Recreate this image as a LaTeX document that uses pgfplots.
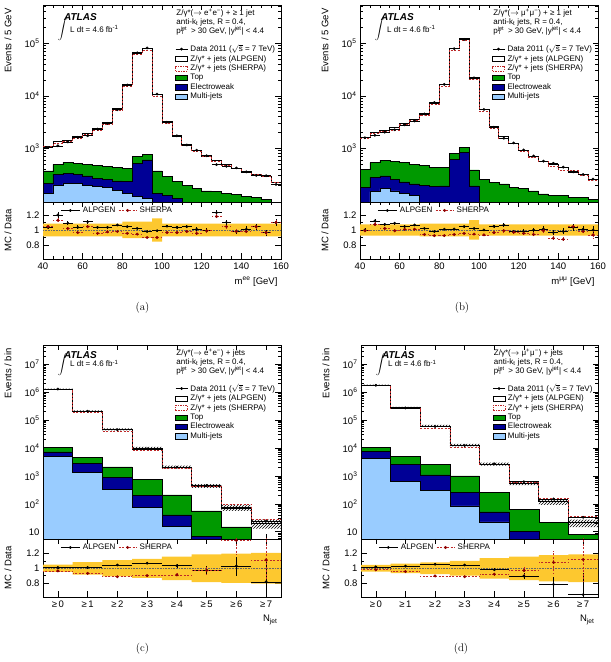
\documentclass[border=0pt]{standalone}
\usepackage{fontspec}
\usepackage{pgfplots}
\pgfplotsset{compat=1.18}
\usetikzlibrary{patterns}
\newfontfamily\hv{Liberation Sans}
\definecolor{topg}{RGB}{0,153,0}
\definecolor{ewb}{RGB}{0,0,150}
\definecolor{mjb}{RGB}{153,204,255}
\definecolor{band}{RGB}{253,200,47}
\definecolor{sherpa}{RGB}{190,40,40}
\definecolor{sherpadot}{RGB}{140,0,0}
\pgfkeys{/pgf/number format/assume math mode=true}
\newcommand\supsub[2]{\raisebox{2.6pt}{\makebox[0pt][l]{\fontsize{5.5}{6}\selectfont #1}}\raisebox{-1.4pt}{\fontsize{5.5}{6}\selectfont #2}\hspace{4.5pt}}
\pgfplotsset{
  atlbase/.style={scale only axis, width=238pt, anchor=south west,
    axis line style={line width=0.9pt}, tick style={black, line width=0.6pt},
    major tick length=5.5pt, minor tick length=3pt, tick align=inside,
    tick label style={font=\hv\fontsize{9.5}{11}\selectfont},
    label style={font=\hv\fontsize{9.5}{11}\selectfont}},
  mainax/.style={atlbase, xticklabels={},
    ylabel style={at={(axis description cs:-0.118,1)}, anchor=south east},
    legend style={at={(rel axis cs:0.542,0.812)}, anchor=north west, draw=none, fill=none,
      font=\hv\fontsize{8}{9}\selectfont, nodes={inner xsep=2.6pt, inner ysep=0.5pt, text depth=1.8pt}, row sep=0.9pt},
    legend cell align=left},
  ratioax/.style={atlbase, ytick={0.8,1,1.2}, minor y tick num=1,
    ylabel={MC / Data},
    ylabel style={at={(axis description cs:-0.118,0.5)}, anchor=south},
    xlabel style={at={(axis description cs:1,-0.25)}, anchor=north east},
    legend columns=2,
    legend style={at={(rel axis cs:0.06,0.97)}, anchor=north west, draw=none, fill=none,
      font=\hv\fontsize{8}{9}\selectfont, nodes={inner xsep=2.8pt, inner ysep=1pt}}},
  datapt/.style={only marks, black, mark=*, mark size=1.2pt,
    error bars/x dir=both, error bars/x explicit, error bars/error mark=none,
    error bars/error bar style={line width=0.6pt}},
  alpr/.style={only marks, black, mark=*, mark size=1.2pt,
    error bars/x dir=both, error bars/x explicit, error bars/y dir=both, error bars/y explicit,
    error bars/error mark=none, error bars/error bar style={line width=0.6pt}},
  shr/.style={only marks, sherpadot, mark=*, mark size=1.3pt,
    error bars/x dir=both, error bars/x explicit, error bars/y dir=both, error bars/y explicit,
    error bars/error mark=none,
    error bars/error bar style={line width=0.6pt, sherpa, dash pattern=on 2pt off 1.5pt}},
  imgdata/.style={legend image code/.code={\draw[black, line width=0.7pt] (0pt,0pt) -- (12pt,0pt); \fill[black] (6pt,0pt) circle (1.2pt);}},
  imgbox/.style={legend image code/.code={\draw[#1] (0pt,-2.6pt) rectangle (12pt,2.6pt);}},
  imgalp/.style={legend image code/.code={\draw[black, line width=0.7pt] (0pt,0pt) -- (19pt,0pt); \fill[black] (9.5pt,0pt) circle (1.2pt);}},
  imgshr/.style={legend image code/.code={\draw[sherpa, line width=0.7pt, dash pattern=on 2pt off 1.5pt] (0pt,0pt) -- (18pt,0pt); \fill[sherpadot] (9pt,0pt) circle (1.3pt);}},
}
\newcommand\mainlegend{%
  \addlegendimage{imgdata}\addlegendentry{Data 2011 ($\sqrt{\mbox{s}}$ = 7 TeV)}
  \addlegendimage{imgbox={black, fill=white, line width=0.6pt}}\addlegendentry{Z/γ* + jets (ALPGEN)}
  \addlegendimage{imgbox={sherpa, dash pattern=on 1.5pt off 1pt, line width=0.6pt}}\addlegendentry{Z/γ* + jets (SHERPA)}
  \addlegendimage{imgbox={black, fill=topg, line width=0.5pt}}\addlegendentry{Top}
  \addlegendimage{imgbox={black, fill=ewb, line width=0.5pt}}\addlegendentry{Electroweak}
  \addlegendimage{imgbox={black, fill=mjb, line width=0.5pt}}\addlegendentry{Multi-jets}}
\newcommand\ratiolegend{%
  \addlegendimage{imgalp}\addlegendentry{ALPGEN\hspace{9pt}}
  \addlegendimage{imgshr}\addlegendentry{SHERPA}}
\newcommand\atlas[2]{%
  \node[anchor=west, font=\hv\bfseries\itshape\fontsize{10}{12}\selectfont, inner sep=0pt] at (rel axis cs:0.088,#1) {ATLAS};
  \node[anchor=west, font=\hv\fontsize{8}{9}\selectfont, inner sep=0pt] at (rel axis cs:0.062,#2) {$\displaystyle\int$ L dt = 4.6 fb\textsuperscript{-1}};}
\newcommand\header[1]{%
  \node[anchor=north west, align=left, font=\hv\fontsize{8}{9}\selectfont, inner sep=0pt] at (rel axis cs:0.56,0.98)
  {#1\\anti-k\textsubscript{t} jets, R = 0.4,\\p\supsub{jet}{T} > 30 GeV, |y\textsuperscript{jet}| < 4.4};}
\begin{document}
\begin{tikzpicture}
\useasboundingbox (0,0) rectangle (611pt,662pt);
% ================= (a) main =================
\begin{axis}[ymode=log, mainax, at={(43pt,460pt)}, height=197pt,
  xmin=40, xmax=160, ymin=95, ymax=5.37e5,
  xtick={40,60,...,160}, minor x tick num=3,
  ytick={1000,10000,100000}, yticklabels={10\textsuperscript{3},10\textsuperscript{4},10\textsuperscript{5}},
  minor ytick={200,300,400,500,600,700,800,900,2000,3000,4000,5000,6000,7000,8000,9000,20000,30000,40000,50000,60000,70000,80000,90000,200000,300000,400000,500000},
  ylabel={Events / 5 GeV}]
\mainlegend
\addplot[const plot, fill=topg, draw=black, line width=0.5pt, forget plot] coordinates {(40,370) (45,496) (50,540) (55,518) (60,496) (65,480) (70,450) (75,430) (80,410) (85,714) (90,768) (95,370) (100,290) (105,232) (110,200) (115,174) (120,154) (125,150) (130,140) (135,134) (140,120) (145,115) (150,108) (155,108)} \closedcycle;
\addplot[const plot, fill=ewb, draw=black, line width=0.5pt, forget plot] coordinates {(40,215) (45,320) (50,334) (55,320) (60,300) (65,268) (70,255) (75,240) (80,232) (85,518) (90,600) (95,140) (100,125) (105,112) (110,112)} \closedcycle;
\addplot[const plot, fill=mjb, draw=black, line width=0.5pt, forget plot] coordinates {(40,140) (45,200) (50,215) (55,215) (60,200) (65,190) (70,180) (75,160) (80,140) (85,120) (90,110) (95,110)} \closedcycle;
\addplot[const plot, black, line width=0.7pt, forget plot] coordinates {(40,1080) (45,1340) (50,1440) (55,1670) (60,1930) (65,2400) (70,3080) (75,5800) (80,16800) (85,67000) (90,80000) (95,10700) (100,3300) (105,1790) (110,1210) (115,930) (120,715) (125,600) (130,500) (135,416) (140,360) (145,320) (150,290) (155,225) (160,225)};
\addplot[const plot, sherpa, line width=0.7pt, dash pattern=on 2pt off 1.5pt, forget plot] coordinates {(40,1090) (45,1262) (50,1347) (55,1557) (60,1817) (65,2215) (70,2901) (75,5327) (80,15353) (85,62073) (90,73469) (95,9727) (100,3033) (105,1669) (110,1135) (115,879) (120,715) (125,576) (130,475) (135,416) (140,349) (145,320) (150,290) (155,225) (160,225)};
\addplot[forget plot, datapt] coordinates {(42.5,1043) +- (2.5,0) (47.5,1117) +- (2.5,0) (52.5,1321) +- (2.5,0) (57.5,1614) +- (2.5,0) (62.5,1739) +- (2.5,0) (67.5,2319) +- (2.5,0) (72.5,2976) +- (2.5,0) (77.5,5436) +- (2.5,0) (82.5,16077) +- (2.5,0) (87.5,65686) +- (2.5,0) (92.5,81633) +- (2.5,0) (97.5,10808) +- (2.5,0) (102.5,3143) +- (2.5,0) (107.5,1729) +- (2.5,0) (112.5,1158) +- (2.5,0) (117.5,921) +- (2.5,0) (122.5,722) +- (2.5,0) (127.5,488) +- (2.5,0) (132.5,455) +- (2.5,0) (137.5,424) +- (2.5,0) (142.5,356) +- (2.5,0) (147.5,306) +- (2.5,0) (152.5,301) +- (2.5,0) (157.5,205) +- (2.5,0)};
\atlas{0.94}{0.873}
\header{Z/γ*($\rightarrow$ e\textsuperscript{+}e\textsuperscript{−}) + ≥ 1 jet}
\end{axis}
% ================= (a) ratio =================
\begin{axis}[ratioax, at={(43pt,403pt)}, height=57pt,
  xmin=40, xmax=160, ymin=0.613, ymax=1.373,
  xtick={40,60,...,160}, minor x tick num=3,
  xlabel={m\textsuperscript{ee} [GeV]}]
\ratiolegend
\addplot[fill=band, draw=none, forget plot] coordinates {(40,1.085) (80,1.085) (80,1.11) (95,1.11) (95,1.155) (100,1.155) (100,1.085) (160,1.085) (160,0.915) (100,0.915) (100,0.845) (95,0.845) (95,0.89) (80,0.89) (80,0.915) (40,0.915)};
\addplot[densely dotted, black!60, line width=0.6pt, forget plot] coordinates {(40,1) (160,1)};
\addplot[forget plot, alpr] coordinates {(42.5,1.035) +- (2.5,0.025) (47.5,1.20) +- (2.5,0.035) (52.5,1.09) +- (2.5,0.025) (57.5,1.035) +- (2.5,0.025) (62.5,1.11) +- (2.5,0.025) (67.5,1.035) +- (2.5,0.02) (72.5,1.035) +- (2.5,0.02) (77.5,1.067) +- (2.5,0.012) (82.5,1.045) +- (2.5,0.008) (87.5,1.02) +- (2.5,0.005) (92.5,0.98) +- (2.5,0.005) (97.5,0.99) +- (2.5,0.01) (102.5,1.05) +- (2.5,0.015) (107.5,1.035) +- (2.5,0.02) (112.5,1.045) +- (2.5,0.025) (117.5,1.01) +- (2.5,0.025) (122.5,0.99) +- (2.5,0.03) (127.5,1.23) +- (2.5,0.04) (132.5,1.10) +- (2.5,0.035) (137.5,0.98) +- (2.5,0.035) (142.5,1.01) +- (2.5,0.04) (147.5,1.045) +- (2.5,0.04) (152.5,0.965) +- (2.5,0.04) (157.5,1.10) +- (2.5,0.045)};
\addplot[forget plot, shr] coordinates {(42.5,1.045) +- (2.5,0.025) (47.5,1.13) +- (2.5,0.035) (52.5,1.02) +- (2.5,0.025) (57.5,0.965) +- (2.5,0.025) (62.5,1.045) +- (2.5,0.025) (67.5,0.955) +- (2.5,0.02) (72.5,0.975) +- (2.5,0.02) (77.5,0.98) +- (2.5,0.012) (82.5,0.955) +- (2.5,0.008) (87.5,0.945) +- (2.5,0.005) (92.5,0.90) +- (2.5,0.005) (97.5,0.90) +- (2.5,0.01) (102.5,0.965) +- (2.5,0.015) (107.5,0.965) +- (2.5,0.02) (112.5,0.98) +- (2.5,0.025) (117.5,0.955) +- (2.5,0.025) (122.5,0.99) +- (2.5,0.03) (127.5,1.18) +- (2.5,0.04) (132.5,1.045) +- (2.5,0.035) (137.5,0.98) +- (2.5,0.035) (142.5,0.98) +- (2.5,0.04) (147.5,1.045) +- (2.5,0.04) (152.5,0.965) +- (2.5,0.04) (157.5,1.10) +- (2.5,0.045)};
\end{axis}
% ================= (b) main =================
\begin{axis}[ymode=log, mainax, at={(360pt,460pt)}, height=197pt,
  xmin=40, xmax=160, ymin=95, ymax=5.37e5,
  xtick={40,60,...,160}, minor x tick num=3,
  ytick={1000,10000,100000}, yticklabels={10\textsuperscript{3},10\textsuperscript{4},10\textsuperscript{5}},
  minor ytick={200,300,400,500,600,700,800,900,2000,3000,4000,5000,6000,7000,8000,9000,20000,30000,40000,50000,60000,70000,80000,90000,200000,300000,400000,500000},
  ylabel={Events / 5 GeV}]
\mainlegend
\addplot[const plot, fill=topg, draw=black, line width=0.5pt, forget plot] coordinates {(40,400) (45,535) (50,590) (55,560) (60,535) (65,500) (70,476) (75,430) (80,430) (85,804) (90,1030) (95,388) (100,258) (105,225) (110,210) (115,180) (120,170) (125,155) (130,135) (135,126) (140,126) (145,116) (150,116) (155,108) (160,108)} \closedcycle;
\addplot[const plot, fill=ewb, draw=black, line width=0.5pt, forget plot] coordinates {(40,180) (45,280) (50,300) (55,260) (60,230) (65,210) (70,195) (75,190) (80,193) (85,620) (90,830) (95,193) (100,193)} \closedcycle;
\addplot[const plot, fill=mjb, draw=black, line width=0.5pt, forget plot] coordinates {(45,150) (50,170) (55,155) (60,140) (65,126) (70,126)} \closedcycle;
\addplot[const plot, black, line width=0.7pt, forget plot] coordinates {(40,1590) (45,1980) (50,2190) (55,2460) (60,2930) (65,3540) (70,4600) (75,7300) (80,16700) (85,80000) (90,124000) (95,22400) (100,5500) (105,2650) (110,1660) (115,1240) (120,915) (125,716) (130,576) (135,500) (140,430) (145,370) (150,320) (155,260) (160,260)};
\addplot[const plot, sherpa, line width=0.7pt, dash pattern=on 2pt off 1.5pt, forget plot] coordinates {(40,1574) (45,1900) (50,2078) (55,2234) (60,2832) (65,3351) (70,4239) (75,6890) (80,15295) (85,74235) (90,113320) (95,20753) (100,5143) (105,2435) (110,1540) (115,1227) (120,892) (125,673) (130,563) (135,461) (140,384) (145,373) (150,311) (155,243) (160,243)};
\addplot[forget plot, datapt] coordinates {(42.5,1590) +- (2.5,0) (47.5,1768) +- (2.5,0) (52.5,2037) +- (2.5,0) (57.5,2257) +- (2.5,0) (62.5,2804) +- (2.5,0) (67.5,3318) +- (2.5,0) (72.5,4510) +- (2.5,0) (77.5,7449) +- (2.5,0) (82.5,16535) +- (2.5,0) (87.5,78973) +- (2.5,0) (92.5,118660) +- (2.5,0) (97.5,21961) +- (2.5,0) (102.5,5500) +- (2.5,0) (107.5,2524) +- (2.5,0) (112.5,1556) +- (2.5,0) (117.5,1265) +- (2.5,0) (122.5,934) +- (2.5,0) (127.5,716) +- (2.5,0) (132.5,569) +- (2.5,0) (137.5,518) +- (2.5,0) (142.5,439) +- (2.5,0) (147.5,357) +- (2.5,0) (152.5,317) +- (2.5,0) (157.5,260) +- (2.5,0)};
\atlas{0.94}{0.873}
\header{Z/γ*($\rightarrow$ μ\textsuperscript{+}μ\textsuperscript{−}) + ≥ 1 jet}
\end{axis}
% ================= (b) ratio =================
\begin{axis}[ratioax, at={(360pt,403pt)}, height=57pt,
  xmin=40, xmax=160, ymin=0.613, ymax=1.373,
  xtick={40,60,...,160}, minor x tick num=3,
  xlabel={m\textsuperscript{μμ} [GeV]}]
\ratiolegend
\addplot[fill=band, draw=none, forget plot] coordinates {(40,1.075) (70,1.075) (70,1.085) (95,1.085) (95,1.13) (100,1.13) (100,1.075) (160,1.075) (160,0.925) (100,0.925) (100,0.87) (95,0.87) (95,0.915) (70,0.915) (70,0.925) (40,0.925)};
\addplot[densely dotted, black!60, line width=0.6pt, forget plot] coordinates {(40,1) (160,1)};
\addplot[forget plot, alpr] coordinates {(42.5,1.0) +- (2.5,0.02) (47.5,1.12) +- (2.5,0.025) (52.5,1.075) +- (2.5,0.02) (57.5,1.09) +- (2.5,0.02) (62.5,1.045) +- (2.5,0.02) (67.5,1.067) +- (2.5,0.015) (72.5,1.02) +- (2.5,0.012) (77.5,0.98) +- (2.5,0.01) (82.5,1.01) +- (2.5,0.008) (87.5,1.013) +- (2.5,0.005) (92.5,1.045) +- (2.5,0.005) (97.5,1.02) +- (2.5,0.008) (102.5,1.0) +- (2.5,0.012) (107.5,1.05) +- (2.5,0.02) (112.5,1.067) +- (2.5,0.025) (117.5,0.98) +- (2.5,0.025) (122.5,0.98) +- (2.5,0.03) (127.5,1.0) +- (2.5,0.03) (132.5,1.013) +- (2.5,0.035) (137.5,0.965) +- (2.5,0.035) (142.5,0.98) +- (2.5,0.04) (147.5,1.035) +- (2.5,0.045) (152.5,1.01) +- (2.5,0.045) (157.5,1.0) +- (2.5,0.05)};
\addplot[forget plot, shr] coordinates {(42.5,0.99) +- (2.5,0.02) (47.5,1.075) +- (2.5,0.025) (52.5,1.02) +- (2.5,0.02) (57.5,0.99) +- (2.5,0.02) (62.5,1.01) +- (2.5,0.02) (67.5,1.01) +- (2.5,0.015) (72.5,0.94) +- (2.5,0.012) (77.5,0.925) +- (2.5,0.01) (82.5,0.925) +- (2.5,0.008) (87.5,0.94) +- (2.5,0.005) (92.5,0.955) +- (2.5,0.005) (97.5,0.945) +- (2.5,0.008) (102.5,0.935) +- (2.5,0.012) (107.5,0.965) +- (2.5,0.02) (112.5,0.99) +- (2.5,0.025) (117.5,0.97) +- (2.5,0.025) (122.5,0.955) +- (2.5,0.03) (127.5,0.94) +- (2.5,0.03) (132.5,0.99) +- (2.5,0.035) (137.5,0.89) +- (2.5,0.035) (142.5,0.875) +- (2.5,0.04) (147.5,1.045) +- (2.5,0.045) (152.5,0.98) +- (2.5,0.045) (157.5,0.935) +- (2.5,0.05)};
\end{axis}
% ================= (c) main =================
\begin{axis}[ymode=log, mainax, at={(43pt,123pt)}, height=194pt,
  xmin=-0.5, xmax=7.5, ymin=5.5, ymax=4.9e7,
  xtick={0,1,2,3,4,5,6,7},
  ytick={10,100,1000,10000,100000,1e6,1e7},
  yticklabels={10,10\textsuperscript{2},10\textsuperscript{3},10\textsuperscript{4},10\textsuperscript{5},10\textsuperscript{6},10\textsuperscript{7}},
  minor ytick={6,7,8,9,20,30,40,50,60,70,80,90,200,300,400,500,600,700,800,900,2000,3000,4000,5000,6000,7000,8000,9000,2e4,3e4,4e4,5e4,6e4,7e4,8e4,9e4,2e5,3e5,4e5,5e5,6e5,7e5,8e5,9e5,2e6,3e6,4e6,5e6,6e6,7e6,8e6,9e6,2e7,3e7,4e7},
  ylabel={Events / bin}]
\mainlegend
\addplot[const plot, fill=topg, draw=black, line width=0.5pt, forget plot] coordinates {(-0.5,10500) (0.5,4600) (1.5,2100) (2.5,750) (3.5,210) (4.5,56) (5.5,15) (6.5,15)} \closedcycle;
\addplot[const plot, fill=ewb, draw=black, line width=0.5pt, forget plot] coordinates {(-0.5,7300) (0.5,2800) (1.5,880) (2.5,205) (3.5,40) (4.5,6.9) (5.5,6.9)} \closedcycle;
\addplot[const plot, fill=mjb, draw=black, line width=0.5pt, forget plot] coordinates {(-0.5,4900) (0.5,1300) (1.5,330) (2.5,74) (3.5,16) (4.5,16)} \closedcycle;
\addplot[pattern=north east lines, pattern color=black, draw=none, forget plot] coordinates {(-0.5,1.352e6) (0.5,1.352e6) (0.5,2.226e5) (1.5,2.226e5) (1.5,5.076e4) (2.5,5.076e4) (2.5,11000) (3.5,11000) (3.5,2352) (4.5,2352) (4.5,510) (5.5,510) (5.5,92.5) (6.5,92.5) (6.5,27) (7.5,27) (7.5,13) (6.5,13) (6.5,55.5) (5.5,55.5) (5.5,370) (4.5,370) (4.5,1848) (3.5,1848) (3.5,9000) (2.5,9000) (2.5,4.324e4) (1.5,4.324e4) (1.5,1.974e5) (0.5,1.974e5) (0.5,1.248e6) (-0.5,1.248e6)};
\addplot[const plot, black, line width=0.7pt, forget plot] coordinates {(-0.5,1.3e6) (0.5,2.1e5) (1.5,4.7e4) (2.5,1.0e4) (3.5,2100) (4.5,440) (5.5,74) (6.5,20) (7.5,20)};
\addplot[const plot, sherpa, line width=0.7pt, dash pattern=on 2pt off 1.5pt, forget plot] coordinates {(-0.5,1.245e6) (0.5,1.93e5) (1.5,3.98e4) (2.5,8410) (3.5,1850) (4.5,438) (5.5,99) (6.5,26.8) (7.5,26.8)};
\addplot[forget plot, datapt] coordinates {(0,1.29e6) +- (0.5,0) (1,2.08e5) +- (0.5,0) (2,4.5e4) +- (0.5,0) (3,9350) +- (0.5,0) (4,2030) +- (0.5,0) (5,451) +- (0.5,0) (6,72) +- (0.5,0) (7,24) +- (0.5,0)};
\atlas{0.948}{0.897}
\header{Z/γ*($\rightarrow$ e\textsuperscript{+}e\textsuperscript{−}) + jets}
\end{axis}
% ================= (c) ratio =================
\begin{axis}[ratioax, at={(43pt,65pt)}, height=58pt,
  xmin=-0.5, xmax=7.5, ymin=0.608, ymax=1.40,
  xtick={0,1,2,3,4,5,6,7}, xticklabels={≥\,0,≥\,1,≥\,2,≥\,3,≥\,4,≥\,5,≥\,6,≥\,7},
  xlabel={N\textsubscript{jet}}]
\ratiolegend
\addplot[fill=band, draw=none, forget plot] coordinates {(-0.5,1.05) (0.5,1.05) (0.5,1.085) (1.5,1.085) (1.5,1.11) (2.5,1.11) (2.5,1.13) (3.5,1.13) (3.5,1.16) (4.5,1.16) (4.5,1.19) (5.5,1.19) (5.5,1.20) (6.5,1.20) (6.5,1.21) (7.5,1.21) (7.5,0.79) (6.5,0.79) (6.5,0.80) (5.5,0.80) (5.5,0.81) (4.5,0.81) (4.5,0.84) (3.5,0.84) (3.5,0.87) (2.5,0.87) (2.5,0.89) (1.5,0.89) (1.5,0.915) (0.5,0.915) (0.5,0.95) (-0.5,0.95)};
\addplot[densely dotted, black!60, line width=0.6pt, forget plot] coordinates {(-0.5,1) (7.5,1)};
\addplot[forget plot, alpr] coordinates {(0,1.01) +- (0.5,0.005) (1,1.01) +- (0.5,0.005) (2,1.045) +- (0.5,0.008) (3,1.07) +- (0.5,0.012) (4,1.035) +- (0.5,0.025) (5,0.975) +- (0.5,0.05) (6,1.03) +- (0.5,0.13) (7,0.815) +- (0.5,0.3)};
\addplot[forget plot, shr] coordinates {(0,0.965) +- (0.5,0.005) (1,0.93) +- (0.5,0.005) (2,0.885) +- (0.5,0.008) (3,0.90) +- (0.5,0.012) (4,0.91) +- (0.5,0.02) (5,0.97) +- (0.5,0.05) (6,1.38) +- (0.5,0.2) (7,1.115) +- (0.5,0.3)};
\end{axis}
% ================= (d) main =================
\begin{axis}[ymode=log, mainax, at={(361pt,123pt)}, height=194pt, width=237pt,
  xmin=-0.5, xmax=7.5, ymin=5.5, ymax=4.9e7,
  xtick={0,1,2,3,4,5,6,7},
  ytick={10,100,1000,10000,100000,1e6,1e7},
  yticklabels={10,10\textsuperscript{2},10\textsuperscript{3},10\textsuperscript{4},10\textsuperscript{5},10\textsuperscript{6},10\textsuperscript{7}},
  minor ytick={6,7,8,9,20,30,40,50,60,70,80,90,200,300,400,500,600,700,800,900,2000,3000,4000,5000,6000,7000,8000,9000,2e4,3e4,4e4,5e4,6e4,7e4,8e4,9e4,2e5,3e5,4e5,5e5,6e5,7e5,8e5,9e5,2e6,3e6,4e6,5e6,6e6,7e6,8e6,9e6,2e7,3e7,4e7},
  ylabel={Events / bin}]
\mainlegend
\addplot[const plot, fill=topg, draw=black, line width=0.5pt, forget plot] coordinates {(-0.5,10500) (0.5,4900) (1.5,2600) (2.5,1000) (3.5,250) (4.5,65) (5.5,21.5) (6.5,8) (7.5,8)} \closedcycle;
\addplot[const plot, fill=ewb, draw=black, line width=0.5pt, forget plot] coordinates {(-0.5,7800) (0.5,2600) (1.5,1100) (2.5,260) (3.5,52) (4.5,10.5) (5.5,10.5)} \closedcycle;
\addplot[const plot, fill=mjb, draw=black, line width=0.5pt, forget plot] coordinates {(-0.5,4200) (0.5,655) (1.5,310) (2.5,85) (3.5,22.8) (4.5,22.8)} \closedcycle;
\addplot[pattern=north east lines, pattern color=black, draw=none, forget plot] coordinates {(-0.5,1.872e6) (0.5,1.872e6) (0.5,2.968e5) (1.5,2.968e5) (1.5,6.696e4) (2.5,6.696e4) (2.5,14080) (3.5,14080) (3.5,2979) (4.5,2979) (4.5,650) (5.5,650) (5.5,144) (6.5,144) (6.5,27.3) (7.5,27.3) (7.5,14.7) (6.5,14.7) (6.5,92) (5.5,92) (5.5,470) (4.5,470) (4.5,2341) (3.5,2341) (3.5,11520) (2.5,11520) (2.5,5.704e4) (1.5,5.704e4) (1.5,2.632e5) (0.5,2.632e5) (0.5,1.728e6) (-0.5,1.728e6)};
\addplot[const plot, black, line width=0.7pt, forget plot] coordinates {(-0.5,1.8e6) (0.5,2.8e5) (1.5,6.2e4) (2.5,1.28e4) (3.5,2660) (4.5,560) (5.5,118) (6.5,21) (7.5,21)};
\addplot[const plot, sherpa, line width=0.7pt, dash pattern=on 2pt off 1.5pt, forget plot] coordinates {(-0.5,1.73e6) (0.5,2.6e5) (1.5,5.26e4) (2.5,1.084e4) (3.5,2500) (4.5,601) (5.5,162) (6.5,37) (7.5,37)};
\addplot[forget plot, datapt] coordinates {(0,1.765e6) +- (0.5,0) (1,2.72e5) +- (0.5,0) (2,5.88e4) +- (0.5,0) (3,1.225e4) +- (0.5,0) (4,2710) +- (0.5,0) (5,620) +- (0.5,0) (6,150) +- (0.5,0) (7,33) +- (0.5,0)};
\atlas{0.948}{0.897}
\header{Z/γ*($\rightarrow$ μ\textsuperscript{+}μ\textsuperscript{−}) + jets}
\end{axis}
% ================= (d) ratio =================
\begin{axis}[ratioax, at={(361pt,65pt)}, height=58pt, width=237pt,
  xmin=-0.5, xmax=7.5, ymin=0.608, ymax=1.40,
  xtick={0,1,2,3,4,5,6,7}, xticklabels={≥\,0,≥\,1,≥\,2,≥\,3,≥\,4,≥\,5,≥\,6,≥\,7},
  xlabel={N\textsubscript{jet}}]
\ratiolegend
\addplot[fill=band, draw=none, forget plot] coordinates {(-0.5,1.045) (0.5,1.045) (0.5,1.065) (1.5,1.065) (1.5,1.08) (2.5,1.08) (2.5,1.10) (3.5,1.10) (3.5,1.14) (4.5,1.14) (4.5,1.16) (5.5,1.16) (5.5,1.18) (6.5,1.18) (6.5,1.19) (7.5,1.19) (7.5,0.81) (6.5,0.81) (6.5,0.82) (5.5,0.82) (5.5,0.84) (4.5,0.84) (4.5,0.86) (3.5,0.86) (3.5,0.90) (2.5,0.90) (2.5,0.92) (1.5,0.92) (1.5,0.935) (0.5,0.935) (0.5,0.955) (-0.5,0.955)};
\addplot[densely dotted, black!60, line width=0.6pt, forget plot] coordinates {(-0.5,1) (7.5,1)};
\addplot[forget plot, alpr] coordinates {(0,1.02) +- (0.5,0.005) (1,1.03) +- (0.5,0.005) (2,1.055) +- (0.5,0.008) (3,1.045) +- (0.5,0.01) (4,0.98) +- (0.5,0.02) (5,0.895) +- (0.5,0.04) (6,0.78) +- (0.5,0.1) (7,0.64) +- (0.5,0.3)};
\addplot[forget plot, shr] coordinates {(0,0.98) +- (0.5,0.005) (1,0.955) +- (0.5,0.005) (2,0.895) +- (0.5,0.008) (3,0.885) +- (0.5,0.01) (4,0.92) +- (0.5,0.02) (5,0.97) +- (0.5,0.05) (6,1.08) +- (0.5,0.15) (7,1.12) +- (0.5,0.3)};
\end{axis}
% captions
\node[font=\fontsize{11}{13}\selectfont] at (142.5pt,354pt) {(a)};
\node[font=\fontsize{11}{13}\selectfont] at (462pt,354pt) {(b)};
\node[font=\fontsize{11}{13}\selectfont] at (142.5pt,13pt) {(c)};
\node[font=\fontsize{11}{13}\selectfont] at (461pt,13pt) {(d)};
\end{tikzpicture}
\end{document}
